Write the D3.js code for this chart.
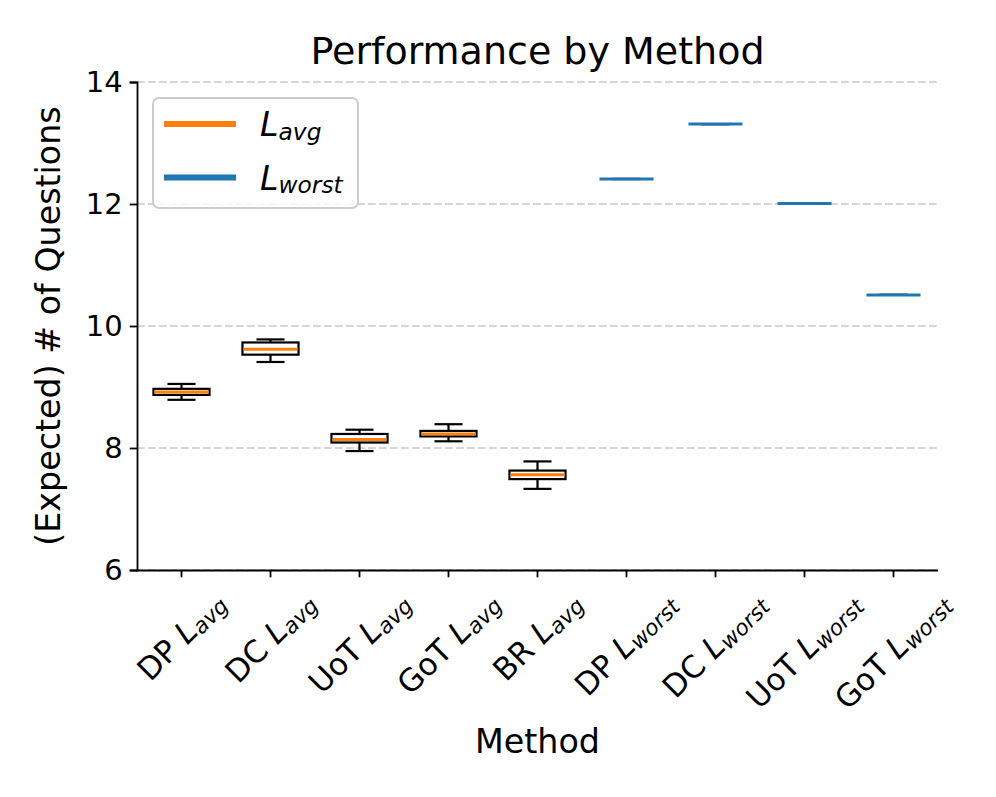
<!DOCTYPE html>
<html>
<head>
<meta charset="utf-8">
<script src="https://cdn.jsdelivr.net/npm/d3@7"></script>
<style>
  body { margin: 0; background: #fff; }
  text { font-family: "DejaVu Sans", sans-serif; fill: #000; }
</style>
</head>
<body>
<svg id="chart"></svg>
<script>
// Size of the picture
const width = 996;
const height = 797;

// Categories (tick labels are "prefix L_sub")
const methodNames = ["DP", "DC", "UoT", "GoT", "BR", "DP", "DC", "UoT", "GoT"];
const metricNames = ["avg", "avg", "avg", "avg", "avg", "worst", "worst", "worst", "worst"];

// Box statistics
const whiskerLow  = [8.79, 9.41, 7.95, 8.11, 7.33, 12.41, 13.31, 12.01, 10.51];
const quartile1   = [8.87, 9.53, 8.09, 8.19, 7.49, 12.41, 13.31, 12.01, 10.51];
const medians     = [8.92, 9.62, 8.14, 8.23, 7.56, 12.41, 13.31, 12.01, 10.51];
const quartile3   = [8.97, 9.73, 8.23, 8.28, 7.63, 12.41, 13.31, 12.01, 10.51];
const whiskerHigh = [9.05, 9.78, 8.30, 8.39, 7.78, 12.41, 13.31, 12.01, 10.51];

const yTicks = [6, 8, 10, 12, 14];
const legendKeys = ["avg", "worst"];

const colors = { avg: "#ff7f0e", worst: "#1f77b4" };

const margin = { top: 82, right: 58, bottom: 227, left: 137 };
const innerW = width - margin.left - margin.right;
const innerH = height - margin.top - margin.bottom;

const svg = d3.select("#chart")
    .attr("width", width)
    .attr("height", height);

const rows = methodNames.map((m, i) => ({
    key: i,
    method: m,
    metric: metricNames[i],
    lo: whiskerLow[i],
    q1: quartile1[i],
    med: medians[i],
    q3: quartile3[i],
    hi: whiskerHigh[i]
}));

const x = d3.scaleBand()
    .domain(rows.map(d => d.key))
    .range([margin.left, margin.left + innerW])
    .padding(0);

const y = d3.scaleLinear()
    .domain([6, 14])
    .range([margin.top + innerH, margin.top]);

// Grid lines (dashed, behind everything)
svg.append("g")
    .selectAll("line")
    .data(yTicks)
    .enter()
    .append("line")
    .attr("x1", margin.left)
    .attr("x2", margin.left + innerW)
    .attr("y1", d => y(d))
    .attr("y2", d => y(d))
    .attr("stroke", "#d6d6d6")
    .attr("stroke-width", 2)
    .attr("stroke-dasharray", "7.7,3.3");

// Boxes
const boxW = x.bandwidth() * 0.63;
const capW = boxW / 2;

const box = svg.append("g")
    .selectAll("g")
    .data(rows)
    .enter()
    .append("g")
    .attr("transform", d => `translate(${x(d.key) + x.bandwidth() / 2},0)`);

// whiskers
box.append("line")
    .attr("x1", 0).attr("x2", 0)
    .attr("y1", d => y(d.hi)).attr("y2", d => y(d.q3))
    .attr("stroke", "#000").attr("stroke-width", 2.2);
box.append("line")
    .attr("x1", 0).attr("x2", 0)
    .attr("y1", d => y(d.q1)).attr("y2", d => y(d.lo))
    .attr("stroke", "#000").attr("stroke-width", 2.2);

// caps
box.append("line")
    .attr("x1", -capW / 2).attr("x2", capW / 2)
    .attr("y1", d => y(d.hi)).attr("y2", d => y(d.hi))
    .attr("stroke", "#000").attr("stroke-width", 2.2);
box.append("line")
    .attr("x1", -capW / 2).attr("x2", capW / 2)
    .attr("y1", d => y(d.lo)).attr("y2", d => y(d.lo))
    .attr("stroke", "#000").attr("stroke-width", 2.2);

// box body
box.append("rect")
    .attr("x", -boxW / 2)
    .attr("width", boxW)
    .attr("y", d => y(d.q3))
    .attr("height", d => y(d.q1) - y(d.q3))
    .attr("fill", "#fff")
    .attr("stroke", "#000")
    .attr("stroke-width", 2.2);

// median
box.append("line")
    .attr("x1", -boxW / 2 + 1).attr("x2", boxW / 2 - 1)
    .attr("y1", d => y(d.med)).attr("y2", d => y(d.med))
    .attr("stroke", d => colors[d.metric])
    .attr("stroke-width", 3);

// Axes
const yAxis = svg.append("g")
    .attr("transform", `translate(${margin.left},0)`)
    .call(d3.axisLeft(y).tickValues(yTicks).tickSize(7.3).tickPadding(7))
    .call(g => g.select(".domain").attr("stroke-width", 1.8));
yAxis.selectAll(".tick line").attr("stroke-width", 1.8);
yAxis.selectAll(".tick text")
    .attr("font-size", 29)
    .attr("font-family", "DejaVu Sans");

const xAxis = svg.append("g")
    .attr("transform", `translate(0,${margin.top + innerH})`)
    .call(d3.axisBottom(x).tickSize(7.3).tickFormat(""))
    .call(g => g.select(".domain").attr("stroke-width", 1.8).attr("d", `M${margin.left},0.5H${margin.left + innerW}`));
xAxis.selectAll(".tick line").attr("stroke-width", 1.8);

// Rotated labels with subscripts, centred under each tick like matplotlib
const labelTop = 14.6;
const tickFont = 31;
xAxis.selectAll(".tick").each(function(k) {
    const d = rows[k];
    const t = d3.select(this).append("text")
        .attr("font-size", tickFont)
        .attr("text-anchor", "start")
        .attr("x", 0).attr("y", 0);
    t.append("tspan").text(d.method + " ");
    t.append("tspan").attr("font-style", "italic").text("L");
    t.append("tspan").attr("font-style", "italic").attr("font-size", tickFont * 0.7)
        .attr("dy", 3).text(d.metric);
    const bb = t.node().getBBox();
    const cx = bb.x + bb.width / 2;
    const cy = bb.y + bb.height / 2;
    const s = (bb.width + bb.height) / Math.SQRT2;
    t.attr("transform", `translate(0,${labelTop + s / 2}) rotate(-45) translate(${-cx},${-cy})`);
});

// Titles
svg.append("text")
    .attr("x", margin.left + innerW / 2)
    .attr("y", 64)
    .attr("text-anchor", "middle")
    .attr("font-size", 38)
    .text("Performance by Method");

svg.append("text")
    .attr("x", margin.left + innerW / 2)
    .attr("y", 753)
    .attr("text-anchor", "middle")
    .attr("font-size", 33.3)
    .text("Method");

svg.append("text")
    .attr("transform", `translate(60,${margin.top + innerH / 2}) rotate(-90)`)
    .attr("text-anchor", "middle")
    .attr("font-size", 33.3)
    .text("(Expected) # of Questions");

// Legend
const legend = svg.append("g");
legend.append("rect")
    .attr("x", 153).attr("y", 98)
    .attr("width", 205).attr("height", 110)
    .attr("rx", 6).attr("ry", 6)
    .attr("fill", "#fff").attr("fill-opacity", 0.8)
    .attr("stroke", "#cccccc").attr("stroke-width", 2);

const item = legend.selectAll("g.item")
    .data(legendKeys)
    .enter()
    .append("g")
    .attr("class", "item")
    .attr("transform", (d, i) => `translate(164,${124 + i * 53.5})`);

item.append("line")
    .attr("x1", 0).attr("x2", 72)
    .attr("stroke", d => colors[d])
    .attr("stroke-width", 6);

const lt = item.append("text")
    .attr("x", 96)
    .attr("y", 12)
    .attr("font-size", 33.3);
lt.append("tspan").attr("font-style", "italic").text("L");
lt.append("tspan").attr("font-style", "italic").attr("font-size", 33.3 * 0.7)
    .attr("dy", 3.5).text(d => d);
</script>
</body>
</html>
